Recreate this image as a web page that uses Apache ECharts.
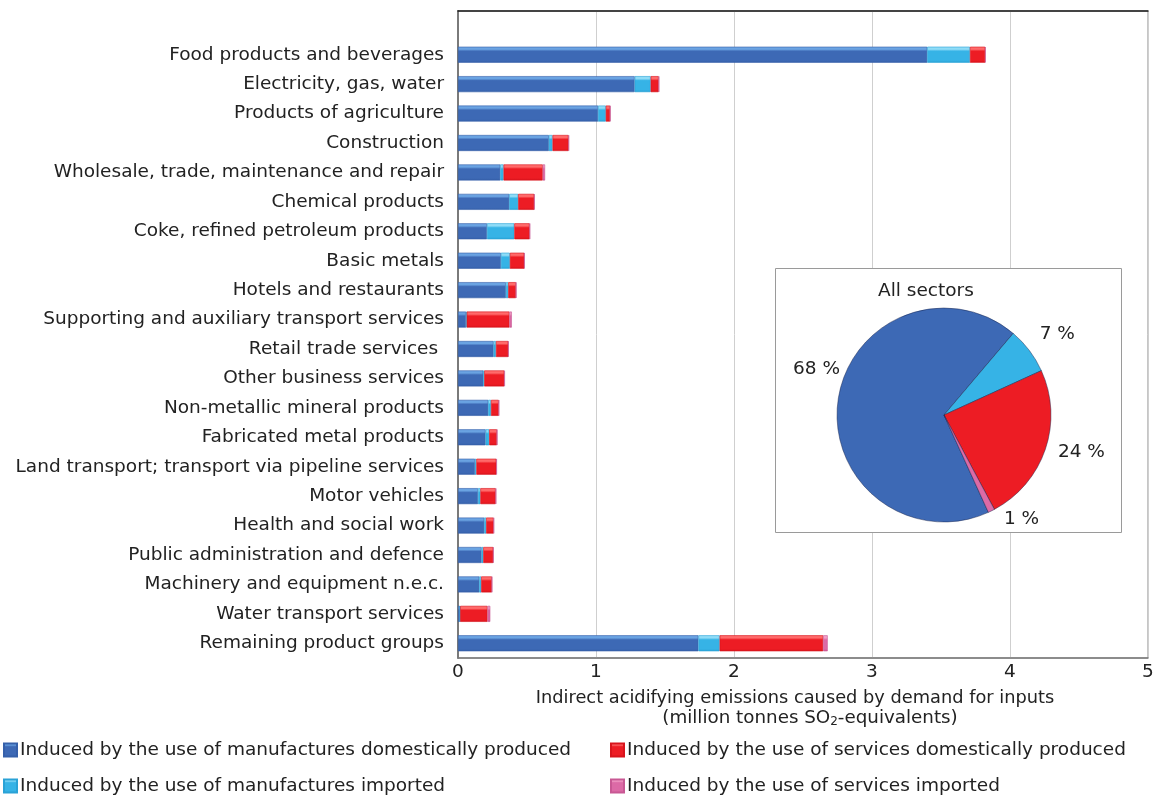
<!DOCTYPE html>
<html>
<head>
<meta charset="utf-8">
<title>Indirect acidifying emissions by product group</title>
<script src="https://cdn.jsdelivr.net/npm/echarts@6/dist/echarts.min.js"></script>
<style>
  html, body { margin: 0; padding: 0; background: #fff; }
  #chart { width: 1160px; height: 796px; }
</style>
</head>
<body>
<div id="chart"></div>
<script>
// Product groups, top to bottom
const categories = [
  "Food products and beverages",
  "Electricity, gas, water",
  "Products of agriculture",
  "Construction",
  "Wholesale, trade, maintenance and repair",
  "Chemical products",
  "Coke, refined petroleum products",
  "Basic metals",
  "Hotels and restaurants",
  "Supporting and auxiliary transport services",
  "Retail trade services ",
  "Other business services",
  "Non-metallic mineral products",
  "Fabricated metal products",
  "Land transport; transport via pipeline services",
  "Motor vehicles",
  "Health and social work",
  "Public administration and defence",
  "Machinery and equipment n.e.c.",
  "Water transport services",
  "Remaining product groups"
];

// Emissions in million tonnes SO2-equivalents
const manufDomestic = [3.40, 1.28, 1.015, 0.658, 0.306, 0.371, 0.21, 0.311, 0.347, 0.058, 0.258, 0.183, 0.219, 0.20, 0.123, 0.145, 0.19, 0.171, 0.154, 0.014, 1.742];
const manufImported = [0.31, 0.116, 0.056, 0.027, 0.024, 0.065, 0.198, 0.065, 0.017, 0.005, 0.017, 0.007, 0.02, 0.026, 0.01, 0.017, 0.014, 0.012, 0.014, 0.002, 0.154];
const servDomestic  = [0.11, 0.058, 0.031, 0.116, 0.284, 0.116, 0.111, 0.104, 0.056, 0.31, 0.089, 0.145, 0.056, 0.056, 0.145, 0.111, 0.054, 0.072, 0.077, 0.198, 0.75];
const servImported  = [0.004, 0.004, 0.003, 0.003, 0.017, 0.004, 0.003, 0.003, 0.003, 0.017, 0.003, 0.005, 0.003, 0.003, 0.003, 0.004, 0.003, 0.003, 0.003, 0.02, 0.033];

// Share of all sectors (%)
const pieShares = [68, 7, 24, 1];

const xTicks = [0, 1, 2, 3, 4, 5];

const seriesNames = [
  "Induced by the use of manufactures domestically produced",
  "Induced by the use of manufactures imported",
  "Induced by the use of services domestically produced",
  "Induced by the use of services imported"
];

const FONT = "DejaVu Sans";
const FS = 18.5;
const TEXT = "#222";

// base colours with a highlight stripe on top for the glossy bar look
const palette = [
  { hi: "#6aa3e2", main: "#3d69b5", low: "#3560aa" },
  { hi: "#8fdcf7", main: "#36b3e6", low: "#2aa2d6" },
  { hi: "#ff6a6a", main: "#ed1c24", low: "#d8141c" },
  { hi: "#f2a0c8", main: "#dc6aa6", low: "#c85894" }
];

function barGradient(p) {
  return new echarts.graphic.LinearGradient(0, 0, 0, 1, [
    { offset: 0, color: p.hi },
    { offset: 0.16, color: p.hi },
    { offset: 0.28, color: p.main },
    { offset: 0.85, color: p.main },
    { offset: 1, color: p.low }
  ]);
}

const barValues = [manufDomestic, manufImported, servDomestic, servImported];

const barSeries = barValues.map((vals, i) => ({
  name: seriesNames[i],
  type: "bar",
  stack: "total",
  xAxisIndex: 2,
  yAxisIndex: 1,
  barWidth: 16,
  data: vals,
  itemStyle: {
    color: barGradient(palette[i]),
    borderColor: palette[i].low,
    borderWidth: 0.6
  },
  emphasis: { disabled: true },
  z: 3
}));

// per-slice label nudges [dx, dy]
const pieLabelShift = [[19, -30], [-5, -11], [-4, 0], [0, 1]];

const pieSeries = {
  name: "All sectors",
  type: "pie",
  center: [944, 415],
  radius: 107,
  startAngle: -65.5,
  clockwise: true,
  z: 10,
  silent: true,
  label: {
    show: true,
    position: "outside",
    formatter: "{c} %",
    fontFamily: FONT,
    fontSize: FS,
    color: TEXT
  },
  labelLine: { show: false, length: 8, length2: 4 },
  labelLayout: function (params) {
    const s = pieLabelShift[params.dataIndex] || [0, 0];
    return { dx: s[0], dy: s[1] };
  },
  itemStyle: { borderColor: "rgba(20,30,70,0.45)", borderWidth: 1 },
  data: pieShares.map((v, i) => ({
    name: seriesNames[i],
    value: v,
    itemStyle: { color: palette[i].main }
  }))
};

// one legend entry per block, laid out in two columns
const legendSpots = [[3, 740], [3, 776], [610, 740], [610, 776]];
const legends = seriesNames.map((name, i) => ({
  left: legendSpots[i][0],
  top: legendSpots[i][1],
  padding: 0,
  icon: "rect",
  itemWidth: 13,
  itemHeight: 13,
  selectedMode: false,
  data: [name],
  textStyle: { fontFamily: FONT, fontSize: FS, color: TEXT, lineHeight: 20, padding: [0, 0, 0, -2] }
}));

const option = {
  animation: false,
  backgroundColor: "#fff",
  textStyle: { fontFamily: FONT },
  title: {
    text: "All sectors",
    left: 878,
    top: 282,
    padding: 0,
    textStyle: { fontFamily: FONT, fontSize: FS, fontWeight: "normal", color: TEXT }
  },
  legend: legends,
  grid: [
    // frame grid carrying the value scale and gridlines
    { left: 458, top: 11, width: 690, height: 647, show: true, borderColor: "#8c8c8c", borderWidth: 1, backgroundColor: "transparent" },
    // bar grid, one empty band below the top edge
    { left: 458, top: 40, width: 690, height: 618 }
  ],
  xAxis: [
    {
      gridIndex: 0,
      type: "value",
      min: xTicks[0],
      max: xTicks[xTicks.length - 1],
      interval: 1,
      axisLine: { show: true, lineStyle: { color: "#7a7a7a", width: 1.5 } },
      axisTick: { show: false },
      axisLabel: { fontFamily: FONT, fontSize: FS, color: TEXT, margin: 5 },
      splitLine: { show: true, lineStyle: { color: "#cfcfcf", width: 1 } },
      name: "Indirect acidifying emissions caused by demand for inputs\n{l2a|(million tonnes SO}{sub|2}{l2|-equivalents)}",
      nameLocation: "middle",
      nameGap: 30,
      nameTextStyle: {
        fontFamily: FONT,
        fontSize: 17.8,
        color: TEXT,
        lineHeight: 20,
        padding: [0, 16, 0, 0],
        rich: {
          l2a: { fontFamily: FONT, fontSize: 18.3, color: TEXT, lineHeight: 20, padding: [0, 0, 0, 30] },
          l2: { fontFamily: FONT, fontSize: 18.3, color: TEXT, lineHeight: 20 },
          sub: { fontFamily: FONT, fontSize: 12, color: TEXT, lineHeight: 20, verticalAlign: "bottom", padding: [9, 0, 0, 0] }
        }
      }
    },
    {
      gridIndex: 0,
      type: "value",
      position: "top",
      min: 0,
      max: 5,
      interval: 1,
      axisLine: { show: true, lineStyle: { color: "#1a1a1a", width: 1.5 } },
      axisTick: { show: false },
      axisLabel: { show: false },
      splitLine: { show: false }
    },
    {
      gridIndex: 1,
      type: "value",
      min: 0,
      max: 5,
      interval: 1,
      show: false
    }
  ],
  yAxis: [
    {
      gridIndex: 0,
      type: "value",
      min: 0,
      max: 1,
      axisLine: { show: true, onZero: false, lineStyle: { color: "#7a7a7a", width: 2 } },
      axisTick: { show: false },
      axisLabel: { show: false },
      splitLine: { show: false }
    },
    {
      gridIndex: 1,
      type: "category",
      inverse: true,
      data: categories,
      axisLine: { show: false },
      axisTick: { show: false },
      splitLine: { show: false },
      axisLabel: { fontFamily: FONT, fontSize: FS, color: TEXT, margin: 14, interval: 0 }
    }
  ],
  graphic: [
    {
      type: "rect",
      z: 5,
      shape: { x: 775.5, y: 268.5, width: 346, height: 264 },
      style: { fill: "#fff", stroke: "#9a9a9a", lineWidth: 1 }
    }
  ],
  series: barSeries.concat([pieSeries])
};

const chart = echarts.init(document.getElementById("chart"), null, { renderer: "canvas" });
chart.setOption(option);
</script>
</body>
</html>
